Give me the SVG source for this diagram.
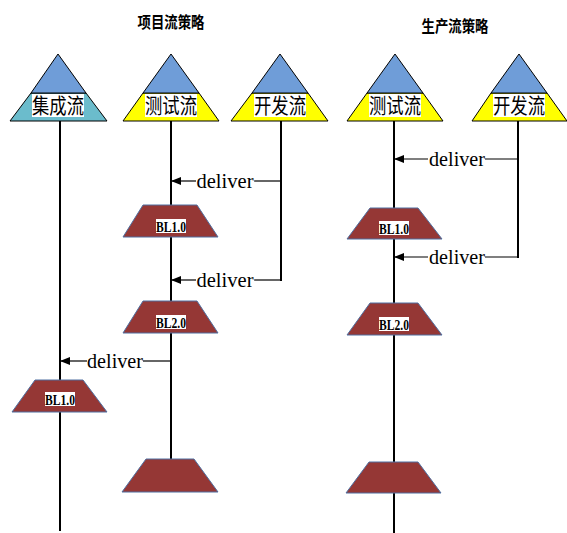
<svg xmlns="http://www.w3.org/2000/svg" width="567" height="533" viewBox="0 0 567 533">
<style>
.title{font-family:"Noto Sans CJK SC","Liberation Serif",serif;font-size:16px;font-weight:bold;fill:#000}
.top{fill:#6f9dd8;stroke:#000;stroke-width:1}
.bot{stroke:#000;stroke-width:1}
.yel{fill:#ffff00}
.cyan{fill:#6bbccc}
.lbl{font-family:"Noto Sans CJK SC","Liberation Serif",serif;font-size:21px;fill:#000}
.lblbg{fill:#fff}
.trap{fill:#953735;stroke:#4f6fa0;stroke-width:1}
.bl{font-family:"Liberation Serif",serif;font-size:15px;font-weight:bold;fill:#000}
.line{stroke:#000;stroke-width:2;fill:none}
.conn{stroke:#000;stroke-width:1.2;fill:none}
.dl{font-family:"Liberation Serif",serif;font-size:21px;fill:#000}
</style>
<defs>
<marker id="ah" markerWidth="10" markerHeight="8" refX="9" refY="4" orient="auto" markerUnits="userSpaceOnUse">
<path d="M0,0 L10,4 L0,8 Z" fill="#000"/>
</marker>
</defs>
<text class="title" x="171" y="28" text-anchor="middle" textLength="67" lengthAdjust="spacingAndGlyphs">项目流策略</text>
<text class="title" x="455" y="32" text-anchor="middle" textLength="67" lengthAdjust="spacingAndGlyphs">生产流策略</text>

<g id="lines">
<line class="line" x1="60" y1="121" x2="60" y2="531"/>
<line class="line" x1="171" y1="121" x2="171" y2="460"/>
<line class="line" x1="281" y1="121" x2="281" y2="281"/>
<line class="line" x1="394" y1="121" x2="394" y2="533"/>
<line class="line" x1="518" y1="121" x2="518" y2="258"/>
</g>

<g id="connectors">
<line class="conn" x1="281" y1="181" x2="254" y2="181"/>
<line class="conn" x1="196" y1="181" x2="172" y2="181" marker-end="url(#ah)"/>
<text class="dl" x="225" y="188" text-anchor="middle" textLength="57" lengthAdjust="spacingAndGlyphs">deliver</text>
<line class="conn" x1="281" y1="280" x2="254" y2="280"/>
<line class="conn" x1="196" y1="280" x2="172" y2="280" marker-end="url(#ah)"/>
<text class="dl" x="225" y="287" text-anchor="middle" textLength="57" lengthAdjust="spacingAndGlyphs">deliver</text>
<line class="conn" x1="171" y1="361" x2="143" y2="361"/>
<line class="conn" x1="87" y1="361" x2="61" y2="361" marker-end="url(#ah)"/>
<text class="dl" x="115" y="368" text-anchor="middle" textLength="56" lengthAdjust="spacingAndGlyphs">deliver</text>
<line class="conn" x1="518" y1="159" x2="485" y2="159"/>
<line class="conn" x1="428" y1="159" x2="395" y2="159" marker-end="url(#ah)"/>
<text class="dl" x="457" y="166" text-anchor="middle" textLength="56" lengthAdjust="spacingAndGlyphs">deliver</text>
<line class="conn" x1="518" y1="257" x2="485" y2="257"/>
<line class="conn" x1="428" y1="257" x2="395" y2="257" marker-end="url(#ah)"/>
<text class="dl" x="457" y="264" text-anchor="middle" textLength="56" lengthAdjust="spacingAndGlyphs">deliver</text>
</g>

<g id="jicheng">
<polygon class="cyan bot" points="10,121 107,121 86,93 31,93"/>
<polygon class="top" points="58,54 86,93 31,93"/>
<rect class="lblbg" x="32" y="94" width="52" height="23"/>
<text class="lbl" x="58" y="113" text-anchor="middle" textLength="52" lengthAdjust="spacingAndGlyphs">集成流</text>
</g>
<g id="ceshi1">
<polygon class="yel bot" points="123,121 219,121 199,93 143,93"/>
<polygon class="top" points="171,54 199,93 143,93"/>
<rect class="lblbg" x="145" y="94" width="52" height="23"/>
<text class="lbl" x="171" y="113" text-anchor="middle" textLength="52" lengthAdjust="spacingAndGlyphs">测试流</text>
</g>
<g id="kaifa1">
<polygon class="yel bot" points="231,121 328,121 308,93 252,93"/>
<polygon class="top" points="280,54 308,93 252,93"/>
<rect class="lblbg" x="254" y="94" width="52" height="23"/>
<text class="lbl" x="280" y="113" text-anchor="middle" textLength="52" lengthAdjust="spacingAndGlyphs">开发流</text>
</g>
<g id="ceshi2">
<polygon class="yel bot" points="347,121 443,121 423,93 367,93"/>
<polygon class="top" points="395,54 423,93 367,93"/>
<rect class="lblbg" x="369" y="94" width="52" height="23"/>
<text class="lbl" x="395" y="113" text-anchor="middle" textLength="52" lengthAdjust="spacingAndGlyphs">测试流</text>
</g>
<g id="kaifa2">
<polygon class="yel bot" points="472,121 567,121 547,93 491,93"/>
<polygon class="top" points="519,54 547,93 491,93"/>
<rect class="lblbg" x="493" y="94" width="52" height="23"/>
<text class="lbl" x="519" y="113" text-anchor="middle" textLength="52" lengthAdjust="spacingAndGlyphs">开发流</text>
</g>

<g id="bl10-test">
<polygon class="trap" points="143,205 197,205 218,237 123,237"/>
<rect class="lblbg" x="156" y="219" width="30" height="14"/>
<text class="bl" x="171" y="232" text-anchor="middle" textLength="30" lengthAdjust="spacingAndGlyphs">BL1.0</text>
</g>
<g id="bl20-test">
<polygon class="trap" points="143,301 197,301 218,333 123,333"/>
<rect class="lblbg" x="156" y="315" width="30" height="14"/>
<text class="bl" x="171" y="328" text-anchor="middle" textLength="30" lengthAdjust="spacingAndGlyphs">BL2.0</text>
</g>
<g id="bl10-int">
<polygon class="trap" points="35,380 83,380 107,412 12,412"/>
<rect class="lblbg" x="45" y="392" width="30" height="14"/>
<text class="bl" x="60" y="405" text-anchor="middle" textLength="30" lengthAdjust="spacingAndGlyphs">BL1.0</text>
</g>
<g id="bl-test-bottom">
<polygon class="trap" points="146,459 194,459 218,492 122,492"/>
</g>
<g id="bl10-prod">
<polygon class="trap" points="370,208 418,208 442,239 347,239"/>
<rect class="lblbg" x="379" y="221" width="30" height="14"/>
<text class="bl" x="394" y="234" text-anchor="middle" textLength="30" lengthAdjust="spacingAndGlyphs">BL1.0</text>
</g>
<g id="bl20-prod">
<polygon class="trap" points="370,303 418,303 442,335 347,335"/>
<rect class="lblbg" x="379" y="317" width="30" height="14"/>
<text class="bl" x="394" y="330" text-anchor="middle" textLength="30" lengthAdjust="spacingAndGlyphs">BL2.0</text>
</g>
<g id="bl-prod-bottom">
<polygon class="trap" points="369,462 418,462 441,493 346,493"/>
</g>
</svg>
